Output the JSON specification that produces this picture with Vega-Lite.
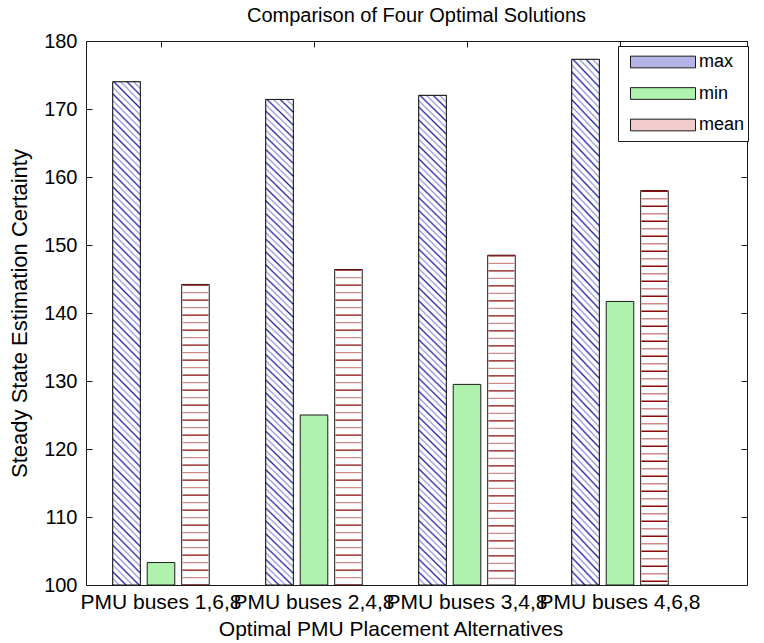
{
  "$schema": "https://vega.github.io/schema/vega-lite/v6.json",
  "width": 661,
  "height": 544,
  "autosize": {"type": "none"},
  "padding": {"left": 86, "top": 41, "right": 17, "bottom": 58},
  "background": "#ffffff",
  "title": {
    "text": "Comparison of Four Optimal Solutions",
    "fontSize": 20,
    "fontWeight": "normal",
    "font": "Liberation Sans",
    "color": "#000000",
    "anchor": "middle",
    "frame": "group",
    "offset": 5
  },
  "data": {
    "values": [
      {"alt": "PMU buses 1,6,8", "stat": "max", "value": 174.0},
      {"alt": "PMU buses 2,4,8", "stat": "max", "value": 171.4},
      {"alt": "PMU buses 3,4,8", "stat": "max", "value": 172.0},
      {"alt": "PMU buses 4,6,8", "stat": "max", "value": 177.3},
      {"alt": "PMU buses 1,6,8", "stat": "min", "value": 103.3},
      {"alt": "PMU buses 2,4,8", "stat": "min", "value": 125.0},
      {"alt": "PMU buses 3,4,8", "stat": "min", "value": 129.5},
      {"alt": "PMU buses 4,6,8", "stat": "min", "value": 141.7},
      {"alt": "PMU buses 1,6,8", "stat": "mean", "value": 144.2},
      {"alt": "PMU buses 2,4,8", "stat": "mean", "value": 146.4},
      {"alt": "PMU buses 3,4,8", "stat": "mean", "value": 148.5},
      {"alt": "PMU buses 4,6,8", "stat": "mean", "value": 158.0}
    ]
  },
  "resolve": {"axis": {"x": "independent", "y": "independent"}},
  "layer": [
    {
      "mark": {"type": "bar", "stroke": "#1a1a1a", "strokeWidth": 1},
      "encoding": {
        "x": {
          "field": "alt", "type": "nominal", "sort": null,
          "scale": {"range": [-1.5, 610.5], "paddingInner": 0, "paddingOuter": 0},
          "axis": {
            "title": "Optimal PMU Placement Alternatives",
            "labelAngle": 0, "labelOverlap": false, "labelLimit": 400,
            "bandPosition": 0.5, "domain": false, "grid": false,
            "ticks": true, "tickSize": -6, "tickColor": "#1a1a1a",
            "labelPadding": 12, "labelFontSize": 21, "labelFont": "Liberation Sans", "labelColor": "#000000",
            "titlePadding": 6, "titleFontSize": 21, "titleFont": "Liberation Sans", "titleFontWeight": "normal", "titleColor": "#000000"
          }
        },
        "xOffset": {"field": "stat", "type": "nominal", "scale": {"domain": ["max", "min", "mean"], "paddingInner": 0.2, "paddingOuter": 0.82}},
        "y": {
          "field": "value", "type": "quantitative",
          "scale": {"domain": [100, 180], "nice": false, "zero": false},
          "axis": {
            "values": [100, 110, 120, 130, 140, 150, 160, 170, 180],
            "title": "Steady State Estimation Certainty",
            "domain": false, "grid": false,
            "ticks": true, "tickSize": -6, "tickColor": "#1a1a1a",
            "labelPadding": 15, "labelFontSize": 20, "labelFont": "Liberation Sans", "labelColor": "#000000",
            "titlePadding": 12, "titleFontSize": 22, "titleFont": "Liberation Sans", "titleFontWeight": "normal", "titleColor": "#000000"
          }
        },
        "y2": {"datum": 100},
        "fill": {"condition": {"test": "datum.stat === 'min'", "value": "#aef2ae"}, "value": "#ffffff"}
      }
    },
    {
      "mark": {"type": "point", "filled": true, "opacity": 0, "shape": "M-1,-0.18H1V0.18H-1Z"},
      "encoding": {
        "x": {"field": "alt", "type": "nominal", "sort": null, "axis": null},
        "xOffset": {"field": "stat", "type": "nominal"},
        "y": {"field": "value", "type": "quantitative", "axis": null},
        "fill": {
          "field": "stat", "type": "nominal",
          "scale": {"domain": ["max", "min", "mean"], "range": ["#b4b4e6", "#aef2ae", "#f0cccc"]},
          "legend": {
            "title": null,
            "orient": "none",
            "legendX": 532,
            "legendY": 5,
            "padding": 3,
            "strokeColor": "#1a1a1a",
            "fillColor": "#ffffff",
            "symbolType": "M-1,-0.18H1V0.18H-1Z",
            "symbolSize": 4225,
            "symbolOffset": 9,
            "symbolStrokeColor": "#1a1a1a",
            "symbolStrokeWidth": 1,
            "symbolOpacity": 1,
            "labelFontSize": 18,
            "labelFont": "Liberation Sans",
            "labelColor": "#000000",
            "labelOffset": 3,
            "clipHeight": 26,
            "rowPadding": 5.5
          }
        }
      }
    },
    {
      "transform": [{"filter": "datum.stat === 'max'"}],
      "mark": {
        "type": "bar",
        "stroke": "#1a1a1a",
        "strokeWidth": 1,
        "fill": {
          "gradient": "linear", "x1": 0, "y1": 1, "x2": 0.0581, "y2": -0.052,
          "stops": [
            {"offset": 0, "color": "#22a"}, {"offset": 0.0035, "color": "#fff"}, {"offset": 0.009, "color": "#fff"},
            {"offset": 0.0125, "color": "#99d"}, {"offset": 0.016, "color": "#fff"}, {"offset": 0.0215, "color": "#fff"},
            {"offset": 0.025, "color": "#22a"}, {"offset": 0.0285, "color": "#fff"}, {"offset": 0.034, "color": "#fff"},
            {"offset": 0.0375, "color": "#99d"}, {"offset": 0.041, "color": "#fff"}, {"offset": 0.0465, "color": "#fff"},
            {"offset": 0.05, "color": "#22a"}, {"offset": 0.0535, "color": "#fff"}, {"offset": 0.059, "color": "#fff"},
            {"offset": 0.0625, "color": "#99d"}, {"offset": 0.066, "color": "#fff"}, {"offset": 0.0715, "color": "#fff"},
            {"offset": 0.075, "color": "#22a"}, {"offset": 0.0785, "color": "#fff"}, {"offset": 0.084, "color": "#fff"},
            {"offset": 0.0875, "color": "#99d"}, {"offset": 0.091, "color": "#fff"}, {"offset": 0.0965, "color": "#fff"},
            {"offset": 0.1, "color": "#22a"}, {"offset": 0.1035, "color": "#fff"}, {"offset": 0.109, "color": "#fff"},
            {"offset": 0.1125, "color": "#99d"}, {"offset": 0.116, "color": "#fff"}, {"offset": 0.1215, "color": "#fff"},
            {"offset": 0.125, "color": "#22a"}, {"offset": 0.1285, "color": "#fff"}, {"offset": 0.134, "color": "#fff"},
            {"offset": 0.1375, "color": "#99d"}, {"offset": 0.141, "color": "#fff"}, {"offset": 0.1465, "color": "#fff"},
            {"offset": 0.15, "color": "#22a"}, {"offset": 0.1535, "color": "#fff"}, {"offset": 0.159, "color": "#fff"},
            {"offset": 0.1625, "color": "#99d"}, {"offset": 0.166, "color": "#fff"}, {"offset": 0.1715, "color": "#fff"},
            {"offset": 0.175, "color": "#22a"}, {"offset": 0.1785, "color": "#fff"}, {"offset": 0.184, "color": "#fff"},
            {"offset": 0.1875, "color": "#99d"}, {"offset": 0.191, "color": "#fff"}, {"offset": 0.1965, "color": "#fff"},
            {"offset": 0.2, "color": "#22a"}, {"offset": 0.2035, "color": "#fff"}, {"offset": 0.209, "color": "#fff"},
            {"offset": 0.2125, "color": "#99d"}, {"offset": 0.216, "color": "#fff"}, {"offset": 0.2215, "color": "#fff"},
            {"offset": 0.225, "color": "#22a"}, {"offset": 0.2285, "color": "#fff"}, {"offset": 0.234, "color": "#fff"},
            {"offset": 0.2375, "color": "#99d"}, {"offset": 0.241, "color": "#fff"}, {"offset": 0.2465, "color": "#fff"},
            {"offset": 0.25, "color": "#22a"}, {"offset": 0.2535, "color": "#fff"}, {"offset": 0.259, "color": "#fff"},
            {"offset": 0.2625, "color": "#99d"}, {"offset": 0.266, "color": "#fff"}, {"offset": 0.2715, "color": "#fff"},
            {"offset": 0.275, "color": "#22a"}, {"offset": 0.2785, "color": "#fff"}, {"offset": 0.284, "color": "#fff"},
            {"offset": 0.2875, "color": "#99d"}, {"offset": 0.291, "color": "#fff"}, {"offset": 0.2965, "color": "#fff"},
            {"offset": 0.3, "color": "#22a"}, {"offset": 0.3035, "color": "#fff"}, {"offset": 0.309, "color": "#fff"},
            {"offset": 0.3125, "color": "#99d"}, {"offset": 0.316, "color": "#fff"}, {"offset": 0.3215, "color": "#fff"},
            {"offset": 0.325, "color": "#22a"}, {"offset": 0.3285, "color": "#fff"}, {"offset": 0.334, "color": "#fff"},
            {"offset": 0.3375, "color": "#99d"}, {"offset": 0.341, "color": "#fff"}, {"offset": 0.3465, "color": "#fff"},
            {"offset": 0.35, "color": "#22a"}, {"offset": 0.3535, "color": "#fff"}, {"offset": 0.359, "color": "#fff"},
            {"offset": 0.3625, "color": "#99d"}, {"offset": 0.366, "color": "#fff"}, {"offset": 0.3715, "color": "#fff"},
            {"offset": 0.375, "color": "#22a"}, {"offset": 0.3785, "color": "#fff"}, {"offset": 0.384, "color": "#fff"},
            {"offset": 0.3875, "color": "#99d"}, {"offset": 0.391, "color": "#fff"}, {"offset": 0.3965, "color": "#fff"},
            {"offset": 0.4, "color": "#22a"}, {"offset": 0.4035, "color": "#fff"}, {"offset": 0.409, "color": "#fff"},
            {"offset": 0.4125, "color": "#99d"}, {"offset": 0.416, "color": "#fff"}, {"offset": 0.4215, "color": "#fff"},
            {"offset": 0.425, "color": "#22a"}, {"offset": 0.4285, "color": "#fff"}, {"offset": 0.434, "color": "#fff"},
            {"offset": 0.4375, "color": "#99d"}, {"offset": 0.441, "color": "#fff"}, {"offset": 0.4465, "color": "#fff"},
            {"offset": 0.45, "color": "#22a"}, {"offset": 0.4535, "color": "#fff"}, {"offset": 0.459, "color": "#fff"},
            {"offset": 0.4625, "color": "#99d"}, {"offset": 0.466, "color": "#fff"}, {"offset": 0.4715, "color": "#fff"},
            {"offset": 0.475, "color": "#22a"}, {"offset": 0.4785, "color": "#fff"}, {"offset": 0.484, "color": "#fff"},
            {"offset": 0.4875, "color": "#99d"}, {"offset": 0.491, "color": "#fff"}, {"offset": 0.4965, "color": "#fff"},
            {"offset": 0.5, "color": "#22a"}, {"offset": 0.5035, "color": "#fff"}, {"offset": 0.509, "color": "#fff"},
            {"offset": 0.5125, "color": "#99d"}, {"offset": 0.516, "color": "#fff"}, {"offset": 0.5215, "color": "#fff"},
            {"offset": 0.525, "color": "#22a"}, {"offset": 0.5285, "color": "#fff"}, {"offset": 0.534, "color": "#fff"},
            {"offset": 0.5375, "color": "#99d"}, {"offset": 0.541, "color": "#fff"}, {"offset": 0.5465, "color": "#fff"},
            {"offset": 0.55, "color": "#22a"}, {"offset": 0.5535, "color": "#fff"}, {"offset": 0.559, "color": "#fff"},
            {"offset": 0.5625, "color": "#99d"}, {"offset": 0.566, "color": "#fff"}, {"offset": 0.5715, "color": "#fff"},
            {"offset": 0.575, "color": "#22a"}, {"offset": 0.5785, "color": "#fff"}, {"offset": 0.584, "color": "#fff"},
            {"offset": 0.5875, "color": "#99d"}, {"offset": 0.591, "color": "#fff"}, {"offset": 0.5965, "color": "#fff"},
            {"offset": 0.6, "color": "#22a"}, {"offset": 0.6035, "color": "#fff"}, {"offset": 0.609, "color": "#fff"},
            {"offset": 0.6125, "color": "#99d"}, {"offset": 0.616, "color": "#fff"}, {"offset": 0.6215, "color": "#fff"},
            {"offset": 0.625, "color": "#22a"}, {"offset": 0.6285, "color": "#fff"}, {"offset": 0.634, "color": "#fff"},
            {"offset": 0.6375, "color": "#99d"}, {"offset": 0.641, "color": "#fff"}, {"offset": 0.6465, "color": "#fff"},
            {"offset": 0.65, "color": "#22a"}, {"offset": 0.6535, "color": "#fff"}, {"offset": 0.659, "color": "#fff"},
            {"offset": 0.6625, "color": "#99d"}, {"offset": 0.666, "color": "#fff"}, {"offset": 0.6715, "color": "#fff"},
            {"offset": 0.675, "color": "#22a"}, {"offset": 0.6785, "color": "#fff"}, {"offset": 0.684, "color": "#fff"},
            {"offset": 0.6875, "color": "#99d"}, {"offset": 0.691, "color": "#fff"}, {"offset": 0.6965, "color": "#fff"},
            {"offset": 0.7, "color": "#22a"}, {"offset": 0.7035, "color": "#fff"}, {"offset": 0.709, "color": "#fff"},
            {"offset": 0.7125, "color": "#99d"}, {"offset": 0.716, "color": "#fff"}, {"offset": 0.7215, "color": "#fff"},
            {"offset": 0.725, "color": "#22a"}, {"offset": 0.7285, "color": "#fff"}, {"offset": 0.734, "color": "#fff"},
            {"offset": 0.7375, "color": "#99d"}, {"offset": 0.741, "color": "#fff"}, {"offset": 0.7465, "color": "#fff"},
            {"offset": 0.75, "color": "#22a"}, {"offset": 0.7535, "color": "#fff"}, {"offset": 0.759, "color": "#fff"},
            {"offset": 0.7625, "color": "#99d"}, {"offset": 0.766, "color": "#fff"}, {"offset": 0.7715, "color": "#fff"},
            {"offset": 0.775, "color": "#22a"}, {"offset": 0.7785, "color": "#fff"}, {"offset": 0.784, "color": "#fff"},
            {"offset": 0.7875, "color": "#99d"}, {"offset": 0.791, "color": "#fff"}, {"offset": 0.7965, "color": "#fff"},
            {"offset": 0.8, "color": "#22a"}, {"offset": 0.8035, "color": "#fff"}, {"offset": 0.809, "color": "#fff"},
            {"offset": 0.8125, "color": "#99d"}, {"offset": 0.816, "color": "#fff"}, {"offset": 0.8215, "color": "#fff"},
            {"offset": 0.825, "color": "#22a"}, {"offset": 0.8285, "color": "#fff"}, {"offset": 0.834, "color": "#fff"},
            {"offset": 0.8375, "color": "#99d"}, {"offset": 0.841, "color": "#fff"}, {"offset": 0.8465, "color": "#fff"},
            {"offset": 0.85, "color": "#22a"}, {"offset": 0.8535, "color": "#fff"}, {"offset": 0.859, "color": "#fff"},
            {"offset": 0.8625, "color": "#99d"}, {"offset": 0.866, "color": "#fff"}, {"offset": 0.8715, "color": "#fff"},
            {"offset": 0.875, "color": "#22a"}, {"offset": 0.8785, "color": "#fff"}, {"offset": 0.884, "color": "#fff"},
            {"offset": 0.8875, "color": "#99d"}, {"offset": 0.891, "color": "#fff"}, {"offset": 0.8965, "color": "#fff"},
            {"offset": 0.9, "color": "#22a"}, {"offset": 0.9035, "color": "#fff"}, {"offset": 0.909, "color": "#fff"},
            {"offset": 0.9125, "color": "#99d"}, {"offset": 0.916, "color": "#fff"}, {"offset": 0.9215, "color": "#fff"},
            {"offset": 0.925, "color": "#22a"}, {"offset": 0.9285, "color": "#fff"}, {"offset": 0.934, "color": "#fff"},
            {"offset": 0.9375, "color": "#99d"}, {"offset": 0.941, "color": "#fff"}, {"offset": 0.9465, "color": "#fff"},
            {"offset": 0.95, "color": "#22a"}, {"offset": 0.9535, "color": "#fff"}, {"offset": 0.959, "color": "#fff"},
            {"offset": 0.9625, "color": "#99d"}, {"offset": 0.966, "color": "#fff"}, {"offset": 0.9715, "color": "#fff"},
            {"offset": 0.975, "color": "#22a"}, {"offset": 0.9785, "color": "#fff"}, {"offset": 0.984, "color": "#fff"},
            {"offset": 0.9875, "color": "#99d"}, {"offset": 0.991, "color": "#fff"}, {"offset": 0.9965, "color": "#fff"},
            {"offset": 1, "color": "#22a"}
          ]
        }
      },
      "encoding": {
        "x": {"field": "alt", "type": "nominal", "sort": null, "axis": null},
        "xOffset": {"field": "stat", "type": "nominal"},
        "y": {"field": "value", "type": "quantitative", "axis": null},
        "y2": {"datum": 100}
      }
    },
    {
      "transform": [{"filter": "datum.stat === 'mean'"}],
      "mark": {"type": "rule", "strokeWidth": 26, "strokeCap": "butt", "strokeDash": [1.3, 13.7], "color": "#8b0a0a"},
      "encoding": {
        "x": {"field": "alt", "type": "nominal", "sort": null, "axis": null},
        "xOffset": {"field": "stat", "type": "nominal"},
        "y": {"field": "value", "type": "quantitative", "axis": null},
        "y2": {"datum": 100}
      }
    },
    {
      "transform": [{"filter": "datum.stat === 'mean'"}],
      "mark": {"type": "rule", "strokeWidth": 26, "strokeCap": "butt", "strokeDash": [1.3, 13.7], "strokeDashOffset": 7.5, "color": "#cf8a8a"},
      "encoding": {
        "x": {"field": "alt", "type": "nominal", "sort": null, "axis": null},
        "xOffset": {"field": "stat", "type": "nominal"},
        "y": {"field": "value", "type": "quantitative", "axis": null},
        "y2": {"datum": 100}
      }
    },
    {
      "mark": {"type": "bar", "opacity": 0},
      "encoding": {
        "x": {
          "field": "alt", "type": "nominal", "sort": null,
          "axis": {"orient": "top", "labels": false, "title": null, "domain": false, "grid": false, "bandPosition": 0.5, "ticks": true, "tickSize": -6, "tickColor": "#1a1a1a"}
        },
        "xOffset": {"field": "stat", "type": "nominal"},
        "y": {
          "field": "value", "type": "quantitative",
          "axis": {"orient": "right", "labels": false, "title": null, "domain": false, "grid": false, "values": [100, 110, 120, 130, 140, 150, 160, 170, 180], "ticks": true, "tickSize": -6, "tickColor": "#1a1a1a"}
        },
        "y2": {"datum": 100}
      }
    }
  ],
  "config": {
    "font": "Liberation Sans",
    "view": {"stroke": "#1a1a1a", "strokeWidth": 1}
  }
}
